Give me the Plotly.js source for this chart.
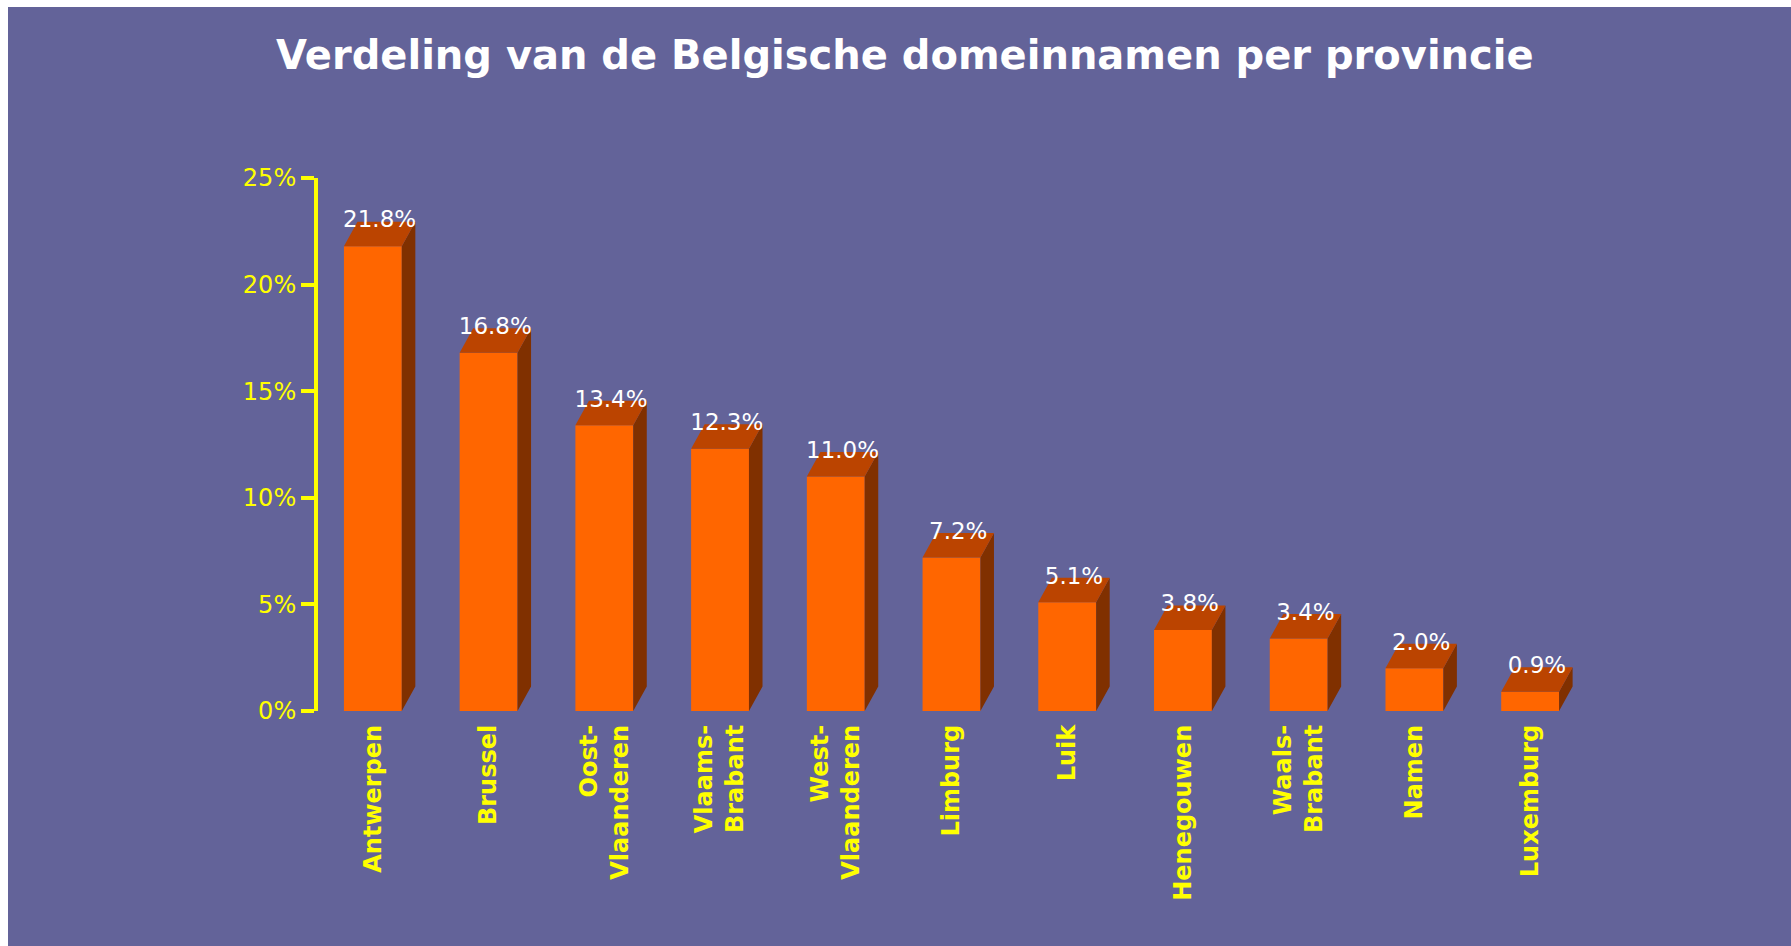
<!DOCTYPE html>
<html>
<head>
<meta charset="utf-8">
<script src="https://cdn.plot.ly/plotly-3.0.1.min.js"></script>
<style>
  html, body { margin: 0; padding: 0; background: #ffffff; width: 1791px; height: 946px; overflow: hidden; }
  #chart { position: absolute; left: 8px; top: 7px; width: 1783px; height: 939px; }
</style>
</head>
<body>
<div id="chart"></div>
<script>
// Data
const provinces = ["Antwerpen", "Brussel", "Oost-<br>Vlaanderen", "Vlaams-<br>Brabant", "West-<br>Vlaanderen",
                   "Limburg", "Luik", "Henegouwen", "Waals-<br>Brabant", "Namen", "Luxemburg"];
const shares = [21.8, 16.8, 13.4, 12.3, 11.0, 7.2, 5.1, 3.8, 3.4, 2.0, 0.9];
const yTicks = [0, 5, 10, 15, 20, 25];

// 3D look parameters (in axis units)
const halfW = 0.25;
const depthX = 0.117;
const depthY = 1.15;

const idx = shares.map((_, i) => i);

const sideX = [], sideY = [], topX = [], topY = [];
shares.forEach((v, i) => {
  const r = i + halfW, l = i - halfW;
  sideX.push(r, r + depthX, r + depthX, r, r, null);
  sideY.push(0, depthY, v + depthY, v, 0, null);
  topX.push(l, l + depthX, r + depthX, r, l, null);
  topY.push(v, v + depthY, v + depthY, v, v, null);
});

const traces = [
  {
    type: 'bar', x: idx, y: shares, width: 2 * halfW,
    marker: { color: '#ff6600', line: { width: 0 } },
    hoverinfo: 'skip'
  },
  {
    type: 'scatter', mode: 'lines', x: sideX, y: sideY, fill: 'toself',
    fillcolor: '#803000', line: { width: 0, color: '#803000' }, hoverinfo: 'skip'
  },
  {
    type: 'scatter', mode: 'lines', x: topX, y: topY, fill: 'toself',
    fillcolor: '#bb4400', line: { width: 0, color: '#bb4400' }, hoverinfo: 'skip'
  },
  {
    type: 'scatter', mode: 'text',
    x: idx.map(i => i + depthX / 2),
    y: shares.map(v => v + depthY),
    text: shares.map(v => v.toFixed(1) + '%'),
    textposition: 'middle center',
    textfont: { family: 'DejaVu Sans', size: 23, color: '#ffffff' },
    cliponaxis: false, hoverinfo: 'skip'
  }
];

const layout = {
  width: 1783, height: 939,
  paper_bgcolor: '#636399', plot_bgcolor: 'rgba(0,0,0,0)',
  margin: { l: 310, r: 203, t: 171, b: 235 },
  showlegend: false,
  title: {
    text: 'Verdeling van de Belgische domeinnamen per provincie',
    font: { family: 'DejaVu Sans', size: 40, color: '#ffffff', weight: 'bold' },
    x: 0.503, xanchor: 'center', xref: 'container',
    y: 0.949, yanchor: 'middle', yref: 'container'
  },
  xaxis: {
    range: [-0.474, 10.5], fixedrange: true,
    tickmode: 'array', tickvals: idx, ticktext: provinces,
    tickangle: -90, ticks: '', ticklabelstandoff: 8,
    tickfont: { family: 'DejaVu Sans', size: 24, color: '#ffff00', weight: 'bold' },
    showline: false, showgrid: false, zeroline: false
  },
  yaxis: {
    range: [0, 25], fixedrange: true,
    tickmode: 'array', tickvals: yTicks, ticktext: yTicks.map(t => t + '%'),
    ticks: 'outside', ticklen: 13, tickwidth: 4, tickcolor: '#ffff00',
    showline: true, linecolor: '#ffff00', linewidth: 4,
    tickfont: { family: 'DejaVu Sans', size: 24, color: '#ffff00' },
    showgrid: false, zeroline: false
  }
};

Plotly.newPlot('chart', traces, layout, { staticPlot: true, displayModeBar: false });
</script>
</body>
</html>
